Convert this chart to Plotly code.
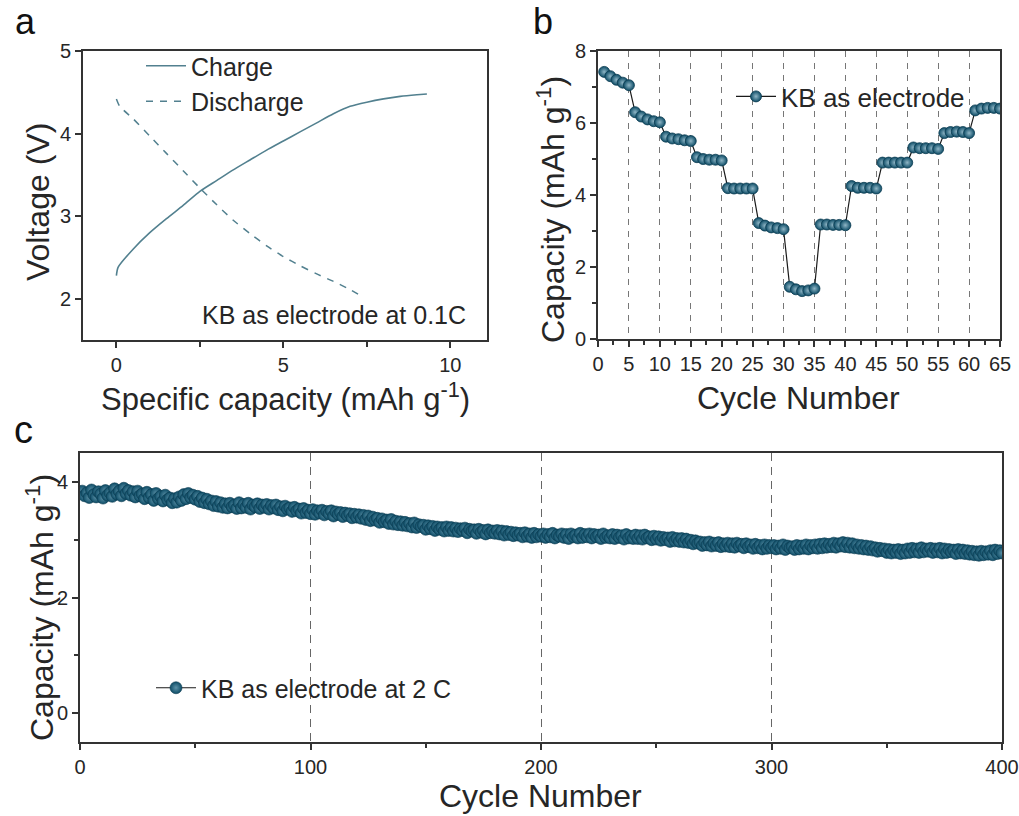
import plotly.graph_objects as go

W, H = 1019, 816

# ---------------- Panel a: charge / discharge profile ----------------
charge_capacity = [0.0, 0.05, 0.5, 1.0, 1.5, 2.0, 2.5, 3.0, 3.5, 4.0, 4.5, 5.0, 5.5, 6.0, 6.5, 7.0, 7.5, 8.0, 8.5, 9.0, 9.3]
charge_voltage = [2.28, 2.38, 2.60, 2.80, 2.97, 3.13, 3.30, 3.43, 3.56, 3.68, 3.80, 3.91, 4.02, 4.13, 4.24, 4.33, 4.38, 4.42, 4.45, 4.47, 4.48]
discharge_capacity = [0.0, 0.1, 0.5, 1.0, 1.5, 2.0, 2.5, 3.0, 3.5, 4.0, 4.5, 5.0, 5.5, 6.0, 6.5, 7.0, 7.3]
discharge_voltage = [4.42, 4.33, 4.18, 3.97, 3.76, 3.55, 3.34, 3.14, 2.95, 2.79, 2.64, 2.51, 2.40, 2.30, 2.21, 2.11, 2.04]

# ---------------- Panel b: rate capability ----------------
rate_cycles = list(range(1, 66))
rate_capacity = [
    7.42, 7.30, 7.20, 7.12, 7.05,
    6.30, 6.18, 6.10, 6.05, 6.02,
    5.62, 5.57, 5.55, 5.52, 5.50,
    5.05, 5.00, 4.98, 4.98, 4.96,
    4.19, 4.18, 4.18, 4.18, 4.18,
    3.22, 3.15, 3.10, 3.08, 3.05,
    1.45, 1.38, 1.33, 1.35, 1.40,
    3.18, 3.18, 3.17, 3.17, 3.16,
    4.25, 4.20, 4.20, 4.20, 4.18,
    4.90, 4.90, 4.90, 4.90, 4.90,
    5.32, 5.30, 5.30, 5.30, 5.28,
    5.72, 5.75, 5.76, 5.75, 5.72,
    6.35, 6.40, 6.42, 6.42, 6.40,
]

# ---------------- Panel c: long cycling at 2 C ----------------
long_cycles = list(range(1, 401))
long_capacity = [
    3.84, 3.76, 3.81, 3.73, 3.86, 3.78, 3.74, 3.83, 3.79, 3.72, 3.85, 3.77, 3.81, 3.75, 3.88, 3.79, 3.84, 3.76, 3.89, 3.80,
    3.85, 3.77, 3.83, 3.74, 3.84, 3.76, 3.79, 3.71, 3.82, 3.73, 3.78, 3.68, 3.80, 3.71, 3.75, 3.67, 3.77, 3.69, 3.72, 3.64,
    3.71, 3.65, 3.74, 3.68, 3.78, 3.71, 3.80, 3.73, 3.77, 3.70, 3.75, 3.66, 3.72, 3.64, 3.70, 3.62, 3.67, 3.59, 3.66, 3.58,
    3.64, 3.56, 3.62, 3.55, 3.63, 3.57, 3.60, 3.54, 3.64, 3.55, 3.61, 3.56, 3.63, 3.53, 3.60, 3.57, 3.62, 3.54, 3.60, 3.56,
    3.61, 3.53, 3.59, 3.55, 3.60, 3.52, 3.57, 3.50, 3.58, 3.53, 3.55, 3.49, 3.56, 3.50, 3.53, 3.46, 3.54, 3.47, 3.51, 3.45,
    3.52, 3.44, 3.50, 3.46, 3.51, 3.43, 3.49, 3.45, 3.50, 3.41, 3.48, 3.44, 3.47, 3.40, 3.46, 3.42, 3.45, 3.38, 3.44, 3.39,
    3.43, 3.37, 3.42, 3.35, 3.41, 3.33, 3.39, 3.34, 3.37, 3.30, 3.36, 3.31, 3.34, 3.28, 3.35, 3.27, 3.32, 3.26, 3.31, 3.25,
    3.30, 3.24, 3.28, 3.22, 3.29, 3.21, 3.26, 3.23, 3.25, 3.18, 3.24, 3.19, 3.23, 3.16, 3.22, 3.18, 3.21, 3.15, 3.22, 3.16,
    3.21, 3.15, 3.20, 3.14, 3.19, 3.16, 3.20, 3.12, 3.18, 3.15, 3.17, 3.11, 3.18, 3.13, 3.16, 3.10, 3.17, 3.12, 3.15, 3.11,
    3.16, 3.10, 3.15, 3.08, 3.14, 3.09, 3.13, 3.07, 3.12, 3.08, 3.11, 3.05, 3.12, 3.06, 3.10, 3.04, 3.11, 3.05, 3.09, 3.06,
    3.10, 3.04, 3.09, 3.05, 3.11, 3.03, 3.08, 3.06, 3.10, 3.04, 3.09, 3.02, 3.10, 3.05, 3.08, 3.03, 3.11, 3.04, 3.09, 3.05,
    3.10, 3.03, 3.09, 3.05, 3.08, 3.02, 3.10, 3.04, 3.07, 3.03, 3.09, 3.02, 3.08, 3.04, 3.07, 3.01, 3.09, 3.03, 3.06, 3.02,
    3.08, 3.02, 3.07, 3.01, 3.08, 3.03, 3.05, 3.00, 3.06, 3.01, 3.05, 2.99, 3.04, 3.00, 3.03, 2.97, 3.04, 2.98, 3.02, 2.97,
    3.02, 2.96, 3.01, 2.95, 2.99, 2.93, 2.98, 2.94, 2.96, 2.90, 2.95, 2.91, 2.96, 2.89, 2.94, 2.90, 2.95, 2.88, 2.93, 2.89,
    2.94, 2.88, 2.93, 2.87, 2.94, 2.89, 2.92, 2.86, 2.93, 2.88, 2.91, 2.85, 2.92, 2.86, 2.90, 2.84, 2.91, 2.85, 2.90, 2.86,
    2.90, 2.84, 2.89, 2.85, 2.91, 2.83, 2.89, 2.86, 2.88, 2.83, 2.90, 2.84, 2.89, 2.85, 2.91, 2.84, 2.90, 2.86, 2.91, 2.85,
    2.92, 2.86, 2.93, 2.87, 2.92, 2.88, 2.94, 2.87, 2.93, 2.89, 2.95, 2.88, 2.94, 2.87, 2.93, 2.86, 2.91, 2.85, 2.90, 2.84,
    2.89, 2.83, 2.88, 2.82, 2.86, 2.80, 2.85, 2.81, 2.84, 2.78, 2.83, 2.77, 2.82, 2.78, 2.83, 2.76, 2.82, 2.77, 2.84, 2.78,
    2.85, 2.79, 2.84, 2.78, 2.86, 2.79, 2.84, 2.80, 2.85, 2.78, 2.84, 2.79, 2.85, 2.77, 2.84, 2.78, 2.83, 2.79, 2.82, 2.76,
    2.83, 2.77, 2.82, 2.76, 2.81, 2.75, 2.80, 2.74, 2.79, 2.73, 2.80, 2.74, 2.79, 2.75, 2.81, 2.74, 2.82, 2.76, 2.81, 2.77,
]

FONT = "Arial, 'Liberation Sans', sans-serif"
TXT = "#262626"
LINE_A = "#52808f"
TEAL = "#0d4c66"


def px_x(p):
    return p / W


def px_y(p):
    return 1 - p / H


fig = go.Figure()

# Panel a traces
fig.add_trace(go.Scatter(x=charge_capacity, y=charge_voltage, mode="lines", name="Charge",
                         line=dict(color=LINE_A, width=1.6, shape="spline", smoothing=0.6),
                         xaxis="x", yaxis="y", legend="legend"))
fig.add_trace(go.Scatter(x=discharge_capacity, y=discharge_voltage, mode="lines", name="Discharge",
                         line=dict(color=LINE_A, width=1.5, dash="7px,7px", shape="spline", smoothing=0.6),
                         xaxis="x", yaxis="y", legend="legend"))

# Panel b trace
fig.add_trace(go.Scatter(x=rate_cycles, y=rate_capacity, mode="lines+markers", name="KB as electrode",
                         line=dict(color="#1a1a1a", width=1.2),
                         marker=dict(size=11, color=TEAL,
                                     gradient=dict(type="radial", color="#8fb6c6"),
                                     line=dict(color="#0a3b50", width=0.8)),
                         xaxis="x2", yaxis="y2", legend="legend2"))

# Panel c trace
fig.add_trace(go.Scatter(x=long_cycles, y=long_capacity, mode="lines+markers", name="KB as electrode at 2 C",
                         line=dict(color="#1a1a1a", width=1),
                         marker=dict(size=12, color=TEAL,
                                     gradient=dict(type="radial", color="#5d92a8"),
                                     line=dict(color="#0a3b50", width=0.6)),
                         xaxis="x3", yaxis="y3", legend="legend3"))

axis_common = dict(showline=True, linecolor="#333333", linewidth=1.6, mirror=True,
                   ticks="outside", ticklen=6, tickwidth=1.5, tickcolor="#333333",
                   tickfont=dict(family=FONT, size=20, color=TXT),
                   showgrid=False, zeroline=False, automargin=False)

fig.update_layout(
    width=W, height=H,
    margin=dict(l=0, r=0, t=0, b=0, pad=0, autoexpand=False),
    paper_bgcolor="white", plot_bgcolor="white",
    font=dict(family=FONT, color=TXT),
    xaxis=dict(domain=[px_x(83), px_x(487)], anchor="y", range=[-1, 11.1],
               tickvals=[0, 5, 10], minor=dict(tickvals=[2.5, 7.5], ticks="outside", ticklen=5,
                                                 tickcolor="#333333"),
               **axis_common),
    yaxis=dict(domain=[px_y(340), px_y(51)], anchor="x", range=[1.5, 5],
               tickvals=[2, 3, 4, 5], **axis_common),
    xaxis2=dict(domain=[px_x(598), px_x(1000)], anchor="y2", range=[0, 65],
                tick0=0, dtick=5,
                minor=dict(dtick=2.5, ticks="outside", ticklen=4, tickcolor="#333333"),
                **{**axis_common, "showgrid": True}, griddash="6px,6px", gridcolor="#777777", gridwidth=1.2),
    yaxis2=dict(domain=[px_y(339), px_y(51)], anchor="x2", range=[0, 8], tick0=0, dtick=2,
                minor=dict(dtick=1, ticks="outside", ticklen=4, tickcolor="#333333"),
                **axis_common),
    xaxis3=dict(domain=[px_x(80), px_x(1002)], anchor="y3", range=[0, 400], tick0=0, dtick=100,
                minor=dict(dtick=50, ticks="outside", ticklen=4, tickcolor="#333333"),
                **{**axis_common, "showgrid": True}, griddash="8px,6px", gridcolor="#666666", gridwidth=1),
    yaxis3=dict(domain=[px_y(742), px_y(453)], anchor="x3", range=[-0.5, 4.5], tick0=0, dtick=2,
                minor=dict(dtick=1, ticks="outside", ticklen=4, tickcolor="#333333"),
                **axis_common),
    legend=dict(x=px_x(141), y=px_y(43), xanchor="left", yanchor="top",
                bgcolor="rgba(0,0,0,0)", font=dict(family=FONT, size=25, color=TXT),
                tracegroupgap=0, itemwidth=40),
    legend2=dict(x=px_x(731), y=px_y(73), xanchor="left", yanchor="top",
                 bgcolor="rgba(0,0,0,0)", font=dict(family=FONT, size=26, color=TXT), itemwidth=40),
    legend3=dict(x=px_x(151), y=px_y(665), xanchor="left", yanchor="top",
                 bgcolor="rgba(0,0,0,0)", font=dict(family=FONT, size=25, color=TXT), itemwidth=40),
)

ann = []


def add_text(text, x, y, size, angle=0, xanchor="center", yanchor="middle", color=TXT):
    ann.append(dict(text=text, x=px_x(x), y=px_y(y), xref="paper", yref="paper",
                    showarrow=False, textangle=angle, xanchor=xanchor, yanchor=yanchor,
                    borderpad=0, font=dict(family=FONT, size=size, color=color)))


# panel letters
add_text("a", 25, 0, 36, yanchor="top", color="#111111")
add_text("b", 543, 0, 36, yanchor="top", color="#111111")
add_text("c", 23, 430, 38, color="#111111")

# panel a titles
add_text("Specific capacity (mAh g<sup>-1</sup>)", 285, 397, 31)
add_text("Voltage (V)", 38, 202, 32, angle=-90)
add_text("KB as electrode at 0.1C", 467, 315, 25, xanchor="right")

# panel b titles
add_text("Cycle Number", 798, 398, 32)
add_text("Capacity (mAh g<sup>-1</sup>)", 551, 210, 32, angle=-90)

# panel c titles
add_text("Cycle Number", 540, 796, 32)
add_text("Capacity (mAh g<sup>-1</sup>)", 40, 608, 32, angle=-90)

fig.update_layout(annotations=ann)

fig.write_html("out.html", config={"displayModeBar": False},
               post_script="document.body.style.margin='0';document.body.style.overflow='hidden';")
